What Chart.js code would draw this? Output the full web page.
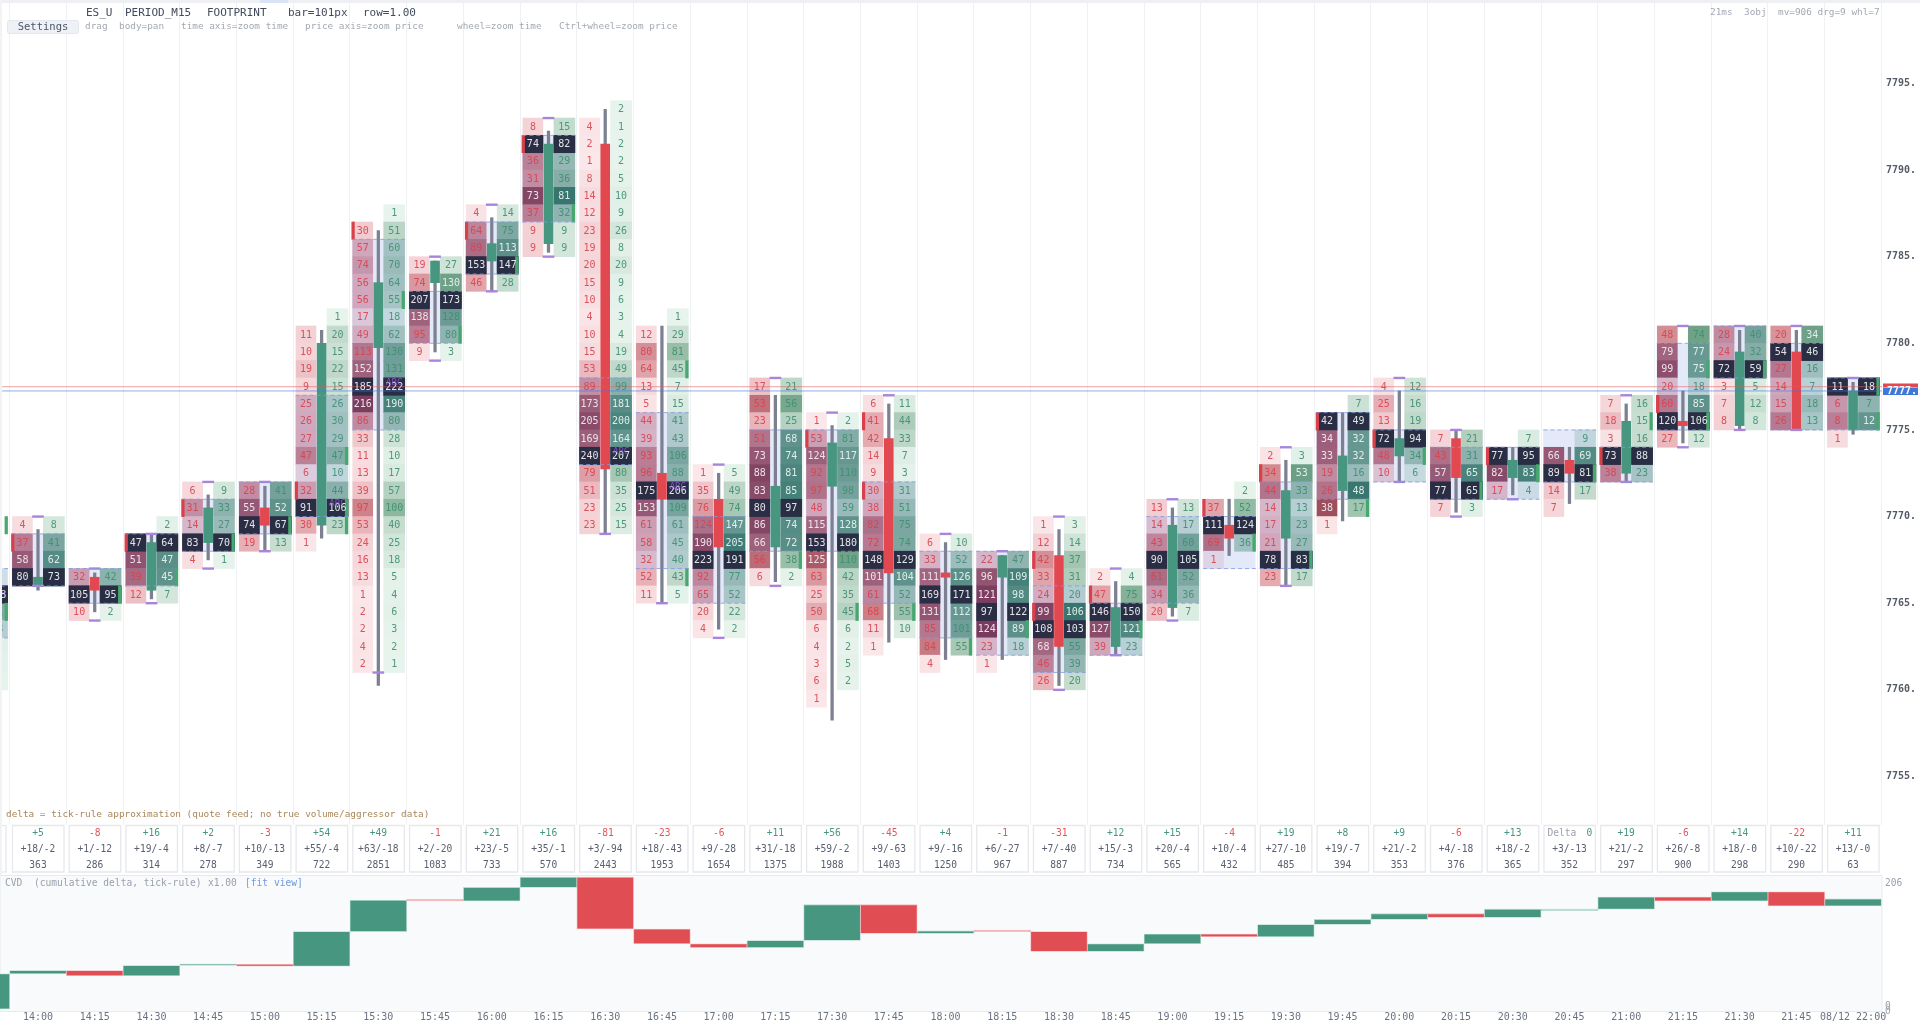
<!DOCTYPE html>
<html>
<head>
<meta charset="utf-8">
<title>ES_U footprint</title>
<script src="https://cdn.jsdelivr.net/npm/chart.js@4/dist/chart.umd.min.js"></script>
<style>
  html, body { margin: 0; padding: 0; background: #fff; overflow: hidden; }
  #topStrip { position: absolute; left: 0; top: 0; width: 1920px; height: 3px; background: #eef0f3; }
  #topTab { position: absolute; left: 260px; top: 0; width: 28px; height: 3px; background: #d9e5f5; }
  #leftEdge { position: absolute; left: 0; top: 0; width: 2px; height: 875px; background: #f2f3f5; z-index: 2; }
  #mainWrap { position: absolute; left: 0; top: 3px; width: 1920px; height: 872px; }
  #cvdWrap { position: absolute; left: 0; top: 875px; width: 1920px; height: 149px; }
  canvas { filter: blur(0.45px); }
</style>
</head>
<body>
<div id="topStrip"></div>
<div id="topTab"></div>
<div id="leftEdge"></div>
<div id="mainWrap"><canvas id="mainChart"></canvas></div>
<div id="cvdWrap"><canvas id="cvdChart"></canvas></div>
<script>
// bar times, first one is the half hidden 13:45 bar
const times = ['13:45','14:00','14:15','14:30','14:45','15:00','15:15','15:30','15:45','16:00','16:15','16:30','16:45','17:00','17:15','17:30','17:45','18:00','18:15','18:30','18:45','19:00','19:15','19:30','19:45','20:00','20:15','20:30','20:45','21:00','21:15','21:30','21:45','08/12 22:00'];

// price of the top footprint row of each bar
const topRow = [7769,7769,7766,7769,7771,7771,7781,7787,7784,7787,7792,7793,7781,7772,7777,7775,7776,7768,7767,7769,7766,7770,7771,7773,7776,7777,7774,7774,7774,7776,7780,7780,7780,7777];

// left column of each bar, top row first
const sellCols = [
  [],
  [4,37,58,80],
  [32,105,10],
  [null,47,51,39,12],
  [6,31,14,83,4],
  [28,55,74,19],
  [null,11,10,19,9,25,26,27,47,6,32,91,30,1],
  [null,30,57,74,56,56,17,49,113,152,185,216,86,33,11,13,39,97,53,24,16,13,1,2,2,4,2],
  [19,74,207,138,95,9],
  [4,64,89,153,46],
  [8,74,36,31,73,37,9,9],
  [null,4,2,1,8,14,12,23,19,20,15,10,4,10,15,53,89,173,205,169,240,79,51,23,23],
  [null,12,80,64,13,5,44,39,93,96,175,153,61,58,32,52,11],
  [1,35,76,124,190,223,92,65,20,4],
  [17,53,23,51,73,88,83,80,86,66,56,6],
  [1,53,124,92,97,48,115,153,125,63,25,50,6,4,3,6,1],
  [6,41,42,14,9,30,38,82,72,148,101,61,68,11,1],
  [6,33,111,169,131,85,84,4],
  [22,96,121,97,124,23,1],
  [1,12,42,33,24,99,108,68,46,26],
  [2,47,146,127,39],
  [13,14,43,90,61,34,20],
  [null,37,111,69,1],
  [2,34,44,14,17,21,78,23],
  [null,42,34,33,19,26,38,1],
  [4,25,13,72,48,10],
  [7,43,57,77,7],
  [null,77,82,17],
  [null,66,89,14,7],
  [7,18,3,73,38],
  [48,79,99,20,60,120,27],
  [28,24,72,3,7,8],
  [20,54,27,14,15,26],
  [11,6,8,1]
];

// right column of each bar, top row first
const buyCols = [
  [null,null,null,2,108,51,18,4,2,1],
  [8,41,62,73],
  [42,95,2],
  [2,64,47,45,7],
  [9,33,27,70,1],
  [41,52,67,13],
  [1,20,15,22,15,26,30,29,47,10,44,106,23,null],
  [1,51,60,70,64,55,18,62,130,131,222,190,80,28,10,17,57,100,40,25,18,5,4,6,3,2,1],
  [27,130,173,128,80,3],
  [14,75,113,147,28],
  [15,82,29,36,81,32,9,9],
  [2,1,2,2,5,10,9,26,8,20,9,6,3,4,19,49,99,181,200,164,207,80,35,25,15],
  [1,29,81,45,7,15,41,43,106,88,206,109,61,45,40,43,5],
  [5,49,74,147,205,191,77,52,22,2],
  [21,56,25,68,74,81,85,97,74,72,38,2],
  [2,81,117,110,98,59,128,180,110,42,35,45,6,2,5,2,null],
  [11,44,33,7,3,31,51,75,74,129,104,52,55,10,null],
  [10,52,126,171,112,101,55,null],
  [47,109,98,122,89,18,null],
  [3,14,37,31,20,106,103,55,39,20],
  [4,75,150,121,23],
  [13,17,60,105,52,36,7],
  [2,52,124,36,null],
  [3,53,33,13,23,27,83,17],
  [7,49,32,32,16,48,17,null],
  [12,16,19,94,34,6],
  [21,31,65,65,3],
  [7,95,83,4],
  [9,69,81,17,null],
  [16,15,16,88,23],
  [74,77,75,18,85,106,12],
  [40,32,59,5,12,8],
  [34,46,16,7,18,13],
  [18,7,12,null]
];

// candle
const opens  = [null,7766,7766.5,7765.75,7768.5,7770.5,7769.5,7779.75,7783.5,7784.75,7785.75,7791.5,7772.5,7771,7768.25,7771.75,7774.5,7766.75,7766.5,7767.75,7762.5,7764.75,7769.5,7768.75,7771.5,7773.5,7774.5,7772.25,7773.25,7772.5,7775.5,7775.25,7779.5,7775];
const closes = [null,7766.5,7765.75,7768.5,7770.5,7769.5,7780,7783.5,7784.75,7785.75,7791.5,7772.75,7771,7768.25,7771.75,7774.25,7766.75,7766.5,7767.75,7762.5,7764.75,7769.5,7768.75,7771.5,7773.5,7774.5,7772.25,7773.25,7772.5,7775.5,7775.25,7779.5,7775,7777.25];
const highs  = [null,7769.25,7766.75,7769,7771.25,7771.75,7780.75,7786.5,7784.75,7787.25,7792.25,7793.5,7781,7772.5,7777,7775.25,7776.5,7768.5,7767.75,7769.25,7766.25,7770.5,7771,7773.25,7776,7777.25,7775,7774,7774,7776.5,7777.25,7780.75,7780.75,7777.75];
const lows   = [null,7765.75,7764.5,7765.25,7767.5,7768,7768.75,7760.25,7779.5,7783,7785.25,7769,7765,7763.5,7766.25,7758.25,7762.75,7761.75,7761.75,7760.25,7762,7764.25,7767.75,7766,7769.75,7772,7770.25,7771.25,7770.75,7772,7774.25,7775,7775,7774.75];

// value area and the purple high/low ticks of the profile
const vaTops = [7767,7769,7767,7769,7771,7772,7777,7786,7783,7787,7792,7778,7776,7770,7775,7775,7772,7768,7768,7766,7765,7770,7770,7772,7776,7775,7774,7774,7775,7774,7780,7781,7780,7778];
const vaBots = [7763,7766,7765,7766,7768,7769,7770,7775,7780,7784,7787,7773,7767,7765,7768,7768,7765,7763,7762,7761,7762,7765,7767,7767,7771,7772,7771,7771,7772,7772,7775,7778,7775,7775];
const tickTops = [null,7770,7767,7769,7772,7772,null,null,7785,7788,7793,null,null,7773,7778,7776,7777,7769,7768,7770,7767,7771,null,7774,null,7778,7775,null,null,7777,7781,7781,7781,7778];
const tickBots = [null,7766,7764,7765,7767,7768,null,7761,7779,7783,7785,7769,7765,7763,7766,null,null,null,null,7760,7762,7764,null,7766,null,7772,7770,7771,null,7772,7774,7775,7775,null];

// imbalance markers, [bar, row price]
const sellMarks = [[1,7768],[3,7768],[4,7770],[6,7771],[7,7786],[9,7786],[10,7791],[15,7774],[16,7775],[16,7771],[19,7767],[19,7764],[20,7765],[22,7770],[23,7772],[24,7775],[25,7774],[27,7773],[29,7773],[30,7776]];
const buyMarks = [[0,7769],[0,7764],[2,7765],[3,7766],[4,7768],[5,7769],[6,7773],[6,7770],[6,7769],[7,7782],[8,7780],[9,7784],[10,7787],[12,7778],[12,7766],[14,7767],[15,7764],[16,7764],[17,7762],[18,7763],[20,7763],[22,7768],[23,7767],[24,7770],[25,7773],[26,7771],[27,7772],[28,7772],[29,7775],[30,7778],[30,7775],[31,7778],[33,7777],[33,7775]];

// the purple ABC overprint, [bar, row price]
const abcRows = [[0,7765],[6,7770],[7,7777],[11,7773],[12,7771]];

// footer boxes
const deltas = [null,5,-8,16,2,-3,54,49,-1,21,16,-81,-23,-6,11,56,-45,4,-1,-31,12,15,-4,19,8,9,-6,13,0,19,-6,14,-22,11];
const buyTotals = [null,18,1,19,8,10,55,63,2,23,35,3,18,9,31,59,9,9,6,7,15,20,10,27,19,21,4,18,3,21,26,18,10,13];
const sellTotals = [null,2,12,4,7,13,4,18,20,5,1,94,43,28,18,2,63,16,27,40,3,4,4,10,7,2,18,2,13,2,8,0,22,0];
const volumes = [null,363,286,314,278,349,722,2851,1083,733,570,2443,1953,1654,1375,1988,1403,1250,967,887,734,565,432,485,394,353,376,365,352,297,900,298,290,63];

// cumulative delta blocks
const cvdOpens  = [0,55,60,52,68,70,67,121,170,169,190,206,125,102,96,107,163,118,122,121,90,102,117,113,132,140,149,143,156,156,175,169,183,161];
const cvdCloses = [55,60,52,68,70,67,121,170,169,190,206,125,102,96,107,163,118,122,121,90,102,117,113,132,140,149,143,156,156,175,169,183,161,172];

const priceTicks = [7795,7790,7785,7780,7775,7770,7765,7760,7755];
const priceTickLabels = ['7795.','7790.','7785.','7780.','7775.','7770.','7765.','7760.','7755.'];
const lastSell = 7777.5;
const lastBuy = 7777.25;

const MONO = '"DejaVu Sans Mono", monospace';
const GREEN = '#47967f';
const RED = '#e2484f';
const POC_NAVY = '#2a2e45';

const xMin = 0.33, xMax = 33.51;   // bar 0 is 13:45

// colour stops, [ratio, r, g, b]
const sellStops = [[0,251,232,234],[0.25,232,178,184],[0.45,204,128,136],[0.9,140,60,78],[1,128,48,70]];
const buyStops = [[0,232,245,238],[0.18,197,220,207],[0.44,143,184,159],[0.9,62,128,100],[1,50,115,90]];

// fill for a footprint cell, ratio is value / largest value of the bar
function cellColor(stops, ratio) {
  let k = 1;
  while (k < stops.length - 1 && ratio > stops[k][0]) k++;
  const a = stops[k - 1], b = stops[k];
  const t = Math.min(1, (ratio - a[0]) / (b[0] - a[0]));
  return 'rgb(' + [1, 2, 3].map(n => Math.round(a[n] + (b[n] - a[n]) * t)).join(',') + ')';
}

// build cells for one side
function buildCells(cols, side) {
  const out = [];
  cols.forEach((col, b) => {
    const barMax = Math.max(1, ...sellCols[b].map(v => v || 0), ...buyCols[b].map(v => v || 0));
    let pocTotal = -1, pocIdx = -1;
    const n = Math.max(sellCols[b].length, buyCols[b].length);
    for (let k = 0; k < n; k++) {
      const t = (sellCols[b][k] || 0) + (buyCols[b][k] || 0);
      if (t >= pocTotal) { pocTotal = t; pocIdx = k; }
    }
    col.forEach((v, k) => {
      if (v === null) return;
      const price = topRow[b] - k;
      out.push({
        x: b + (side === 'sell' ? -0.275 : 0.28),
        y: [price, price + 1],
        value: v,
        ratio: v / barMax,
        poc: k === pocIdx
      });
    });
  });
  return out;
}

const sellCells = buildCells(sellCols, 'sell');
const buyCells = buildCells(buyCols, 'buy');
sellCells.forEach(c => { c.color = cellColor(sellStops, c.ratio); });
buyCells.forEach(c => { c.color = cellColor(buyStops, c.ratio); });

const barIdx = times.map((t, i) => i);
const vaBars = barIdx.map(i => ({ x: i, y: [vaBots[i], vaTops[i]] }));
const wicks = barIdx.filter(i => highs[i] !== null).map(i => ({ x: i, y: [lows[i], highs[i]] }));
const bodies = barIdx.filter(i => opens[i] !== null).map(i => ({ x: i, y: [opens[i], closes[i]], up: closes[i] >= opens[i] }));

const purpleTicks = [];
barIdx.forEach(i => {
  if (tickTops[i] !== null) purpleTicks.push({ x: i, y: [tickTops[i] - 0.05, tickTops[i] + 0.05] });
  if (tickBots[i] !== null) purpleTicks.push({ x: i, y: [tickBots[i] - 0.05, tickBots[i] + 0.05] });
});

// dashed value area edges, gaps are null points
const vaEdges = [];
barIdx.forEach(i => {
  [vaTops[i], vaBots[i]].forEach(p => {
    vaEdges.push({ x: i - 0.46, y: p }, { x: i + 0.47, y: p }, { x: i, y: null });
  });
});

const sellMarkBars = sellMarks.map(m => ({ x: m[0] - 0.445, y: [m[1], m[1] + 1] }));
const buyMarkBars = buyMarks.map(m => ({ x: m[0] + 0.44, y: [m[1], m[1] + 1] }));

// common look of the floating bars
function floating(data, thickness, color, order) {
  return {
    type: 'bar', data, barThickness: thickness, grouped: false, order,
    backgroundColor: color, borderWidth: 0, borderSkipped: false
  };
}

// cell numbers, footer boxes and captions
const mainTextPlugin = {
  id: 'mainText',
  afterDatasetsDraw(chart) {
    const { ctx, scales: { x, y }, chartArea } = chart;
    ctx.save();
    ctx.beginPath();
    ctx.rect(0, chartArea.top, chartArea.right, chartArea.bottom - chartArea.top);
    ctx.clip();
    ctx.textAlign = 'center';
    ctx.textBaseline = 'middle';
    ctx.font = '10px ' + MONO;
    [[sellCells, '#d9434f', '#f1e9ee'], [buyCells, '#3f8f72', '#e6f1ee']].forEach(([cells, ink, light]) => {
      cells.forEach(c => {
        ctx.fillStyle = (c.poc || c.ratio >= 0.62) ? light : ink;
        ctx.globalAlpha = c.ratio >= 0.62 || c.poc ? 0.95 : 0.9;
        ctx.fillText(c.value, x.getPixelForValue(c.x), y.getPixelForValue(c.y[0] + 0.5) + 0.5);
      });
    });
    ctx.globalAlpha = 1;
    ctx.fillStyle = 'rgba(150,90,230,0.8)';
    ctx.font = '9px ' + MONO;
    abcRows.forEach(a => {
      ctx.fillText('ABC', x.getPixelForValue(a[0] + 0.28), y.getPixelForValue(a[1] + 0.5) - 4);
    });
    ctx.restore();

    // captions
    ctx.textAlign = 'left';
    ctx.textBaseline = 'middle';
    ctx.font = '11px ' + MONO;
    ctx.fillStyle = '#414b5c';
    ctx.fillText('ES_U', 86, 10.3);
    ctx.fillText('PERIOD_M15', 125, 10.3);
    ctx.fillText('FOOTPRINT', 207, 10.3);
    ctx.fillText('bar=101px', 288, 10.3);
    ctx.fillText('row=1.00', 363, 10.3);
    ctx.fillStyle = '#eef1f5';
    ctx.strokeStyle = '#e4e7ec';
    ctx.beginPath();
    ctx.roundRect(7.5, 17.5, 71, 13, 2);
    ctx.fill();
    ctx.stroke();
    ctx.fillStyle = '#4b5565';
    ctx.font = '10.5px ' + MONO;
    ctx.textAlign = 'center';
    ctx.fillText('Settings', 43, 24.5);
    ctx.textAlign = 'left';
    ctx.font = '9.4px ' + MONO;
    ctx.fillStyle = '#a3a9b3';
    ctx.fillText('drag', 85, 24);
    ctx.fillText('body=pan', 119, 24);
    ctx.fillText('time axis=zoom time', 181, 24);
    ctx.fillText('price axis=zoom price', 305, 24);
    ctx.fillText('wheel=zoom time', 457, 24);
    ctx.fillText('Ctrl+wheel=zoom price', 559, 24);
    ctx.fillText('21ms', 1710, 10);
    ctx.fillText('3obj', 1744, 10);
    ctx.fillText('mv=906 drg=9 whl=7', 1778, 10);
    ctx.fillStyle = '#a8875a';
    ctx.fillText('delta = tick-rule approximation (quote feed; no true volume/aggressor data)', 6, 812);

    // last price tags on the axis
    const tag = (top, h, color) => {
      ctx.save();
      ctx.beginPath();
      ctx.rect(1883, top, 35, h);
      ctx.clip();
      ctx.fillStyle = color;
      ctx.fillRect(1883, top, 35, h);
      ctx.fillStyle = '#fff';
      ctx.font = 'bold 10px ' + MONO;
      ctx.fillText('7777.', 1887, y.getPixelForValue(lastBuy));
      ctx.restore();
    };
    tag(y.getPixelForValue(lastSell) - 3.3, 4, '#e2484f');
    tag(y.getPixelForValue(lastSell) + 0.7, 7.7, '#3f78d8');

    // delta, buy/sell and volume boxes under the bars
    barIdx.forEach(i => {
      if (deltas[i] === null) return;
      const cx = x.getPixelForValue(i);
      ctx.fillStyle = '#fff';
      ctx.strokeStyle = '#e6e8ec';
      ctx.lineWidth = 1.3;
      ctx.beginPath();
      ctx.rect(cx - 25.5, 822.5, 51.5, 46.5);
      ctx.fill();
      ctx.stroke();
      ctx.textAlign = 'center';
      ctx.font = '9.6px ' + MONO;
      if (deltas[i] === 0) {
        ctx.textAlign = 'left';
        ctx.fillStyle = '#9aa1ad';
        ctx.fillText('Delta', cx - 22, 830.5);
        ctx.fillStyle = '#47967f';
        ctx.fillText('0', cx + 17, 830.5);
        ctx.textAlign = 'center';
      } else {
        ctx.fillStyle = deltas[i] > 0 ? '#47967f' : '#e2555c';
        ctx.fillText((deltas[i] > 0 ? '+' : '') + deltas[i], cx, 830.5);
      }
      ctx.fillStyle = '#5a6070';
      ctx.fillText('+' + buyTotals[i] + '/-' + sellTotals[i], cx, 846.2);
      ctx.fillText(volumes[i], cx, 862.2);
    });
    // stub of the 13:45 box at the left edge
    ctx.strokeStyle = '#e6e8ec';
    ctx.strokeRect(-10, 822.5, 16, 46.5);
  }
};

new Chart(document.getElementById('mainChart'), {
  data: {
    datasets: [
      floating(sellCells, 20, c => c.raw ? c.raw.color : undefined, 10),
      floating(buyCells, 21, c => c.raw ? c.raw.color : undefined, 9),
      floating(vaBars, 52, 'rgba(90,120,220,0.16)', 8),
      floating(sellCells.filter(c => c.poc), 20, POC_NAVY, 7),
      floating(buyCells.filter(c => c.poc), 21, POC_NAVY, 7),
      floating(sellMarkBars, 2.6, '#d8404a', 6),
      floating(buyMarkBars, 2.6, '#46a86e', 5),
      floating(wicks, 2.6, '#7c8090', 4),
      floating(bodies, 9, c => (c.raw && c.raw.up ? GREEN : RED), 3),
      floating(purpleTicks, 11, '#a884dc', 2),
      {
        type: 'line', data: vaEdges, borderColor: 'rgba(130,155,225,0.8)', borderWidth: 1,
        borderDash: [4, 3], pointRadius: 0, spanGaps: false, order: 1
      },
      {
        type: 'line', data: [{ x: xMin, y: lastSell }, { x: xMax, y: lastSell }],
        borderColor: 'rgba(226,90,90,0.45)', borderWidth: 1.2, pointRadius: 0, order: 0
      },
      {
        type: 'line', data: [{ x: xMin, y: lastBuy }, { x: xMax, y: lastBuy }],
        borderColor: 'rgba(70,120,220,0.6)', borderWidth: 1, pointRadius: 0, order: 0
      }
    ]
  },
  plugins: [mainTextPlugin],
  options: {
    responsive: true,
    maintainAspectRatio: false,
    animation: false,
    devicePixelRatio: 1,
    layout: { autoPadding: false, padding: { bottom: 50 } },
    plugins: { legend: { display: false }, tooltip: { enabled: false } },
    scales: {
      x: {
        type: 'linear', offset: false, min: xMin, max: xMax,
        border: { display: false },
        grid: { color: '#f0f1f4', lineWidth: 1, drawTicks: false, offset: false },
        ticks: { display: false },
        afterBuildTicks: axis => { axis.ticks = barIdx.map(i => ({ value: i + 0.5 })); },
        afterFit: axis => { axis.height = 0; axis.paddingLeft = 0; axis.paddingRight = 0; }
      },
      y: {
        type: 'linear', position: 'right', min: 7752.2, max: 7799.64,
        border: { display: false },
        grid: { display: false, drawTicks: false },
        afterBuildTicks: axis => { axis.ticks = priceTicks.map(v => ({ value: v })); },
        afterFit: axis => { axis.width = 38; axis.paddingTop = 0; axis.paddingBottom = 0; },
        ticks: {
          padding: 4, color: '#555b66',
          font: { family: MONO, size: 10, weight: 'bold' },
          callback: v => priceTickLabels[priceTicks.indexOf(v)]
        }
      }
    }
  }
});

const cvdBlocks = barIdx.map(i => ({
  x: i, y: [cvdOpens[i], cvdCloses[i]], up: cvdCloses[i] >= cvdOpens[i], flat: Math.abs(cvdCloses[i] - cvdOpens[i]) < 2
}));

const cvdTextPlugin = {
  id: 'cvdText',
  beforeDraw(chart) {
    const { ctx, chartArea: a } = chart;
    ctx.save();
    ctx.fillStyle = '#f9fafc';
    ctx.fillRect(a.left, a.top, a.right - a.left, a.bottom - a.top);
    ctx.strokeStyle = '#e8eaee';
    ctx.strokeRect(a.left, a.top + 0.5, a.right - a.left, a.bottom - a.top);
    ctx.restore();
  },
  afterDatasetsDraw(chart) {
    const { ctx, scales: { y } } = chart;
    ctx.save();
    ctx.textBaseline = 'middle';
    ctx.textAlign = 'left';
    ctx.font = '9.6px ' + MONO;
    ctx.fillStyle = '#9aa1ad';
    ctx.fillText('CVD', 5, 8);
    ctx.fillText('(cumulative delta, tick-rule)', 34, 8);
    ctx.fillText('x1.00', 208, 8);
    ctx.fillStyle = '#6d9ade';
    ctx.fillText('[fit view]', 245, 8);
    ctx.fillStyle = '#9aa1ad';
    ctx.fillText('206', 1885, y.getPixelForValue(206) + 6);
    ctx.fillText('0', 1885, y.getPixelForValue(0) - 3);
    ctx.fillText('0', 1885, y.getPixelForValue(0) + 2);
    ctx.restore();
  }
};

new Chart(document.getElementById('cvdChart'), {
  data: {
    datasets: [{
      type: 'bar', data: cvdBlocks, barThickness: 56.7, grouped: false, minBarLength: 1.5,
      backgroundColor: c => {
        if (!c.raw) return GREEN;
        if (c.raw.flat) return c.raw.up ? '#9fd0c0' : '#f09a9e';
        return c.raw.up ? '#47967f' : '#e04d53';
      },
      borderColor: c => (c.raw && c.raw.up ? 'rgba(170,215,200,0.9)' : 'rgba(245,175,178,0.9)'),
      borderWidth: 0.8, borderSkipped: false
    }]
  },
  plugins: [cvdTextPlugin],
  options: {
    responsive: true,
    maintainAspectRatio: false,
    animation: false,
    devicePixelRatio: 1,
    layout: { autoPadding: false, padding: { top: 0, bottom: 0 } },
    plugins: { legend: { display: false }, tooltip: { enabled: false } },
    scales: {
      x: {
        type: 'linear', offset: false, min: xMin, max: xMax,
        border: { display: false },
        grid: { display: false, drawTicks: false, offset: false },
        afterBuildTicks: axis => { axis.ticks = barIdx.slice(1).map(i => ({ value: i })); },
        afterFit: axis => { axis.height = 13; axis.paddingLeft = 0; axis.paddingRight = 0; },
        ticks: {
          autoSkip: false, maxRotation: 0, padding: 0, color: '#6b7280',
          font: { family: MONO, size: 10 },
          callback: v => times[v]
        }
      },
      y: {
        type: 'linear', position: 'right', min: -3.1, max: 209.4,
        border: { display: false },
        grid: { display: false, drawTicks: false },
        ticks: { display: false },
        afterFit: axis => { axis.width = 38; }
      }
    }
  }
});
</script>
</body>
</html>
